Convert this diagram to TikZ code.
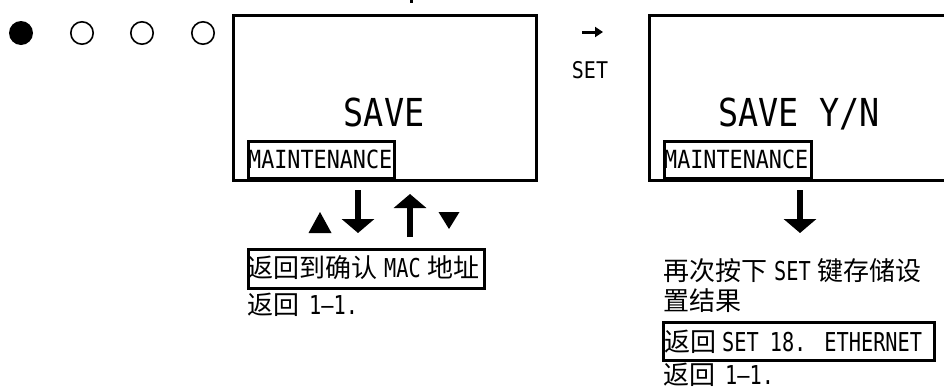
\documentclass[tikz,border=0pt]{standalone}
\usepackage{fontspec}
\newfontfamily\cjk{Noto Sans CJK SC}
\newfontfamily\lat[FakeStretch=0.87]{DejaVu Sans Mono}
\newfontfamily\latn[FakeStretch=0.78]{DejaVu Sans Mono}
\usetikzlibrary{arrows.meta}
\begin{document}
\begin{tikzpicture}[x=1pt,y=-1pt,
  screen/.style={draw, line width=2.7pt, inner sep=0pt, anchor=north west, minimum height=165pt},
  tagbox/.style={draw, line width=2.5pt, inner sep=0pt, anchor=north west},
  big/.style={inner sep=0pt, anchor=base, font=\lat\fontsize{38.5}{38.5}\selectfont},
  tagtxt/.style={inner sep=0pt, anchor=base west, font=\lat\fontsize{25}{25}\selectfont},
  txtline/.style={inner sep=0pt, anchor=base west, font=\fontsize{26}{26}\selectfont},
  dotfull/.style={circle, inner sep=0pt, minimum size=24pt, fill=black},
  dotempty/.style={circle, inner sep=0pt, minimum size=22.4pt, draw, line width=1.6pt},
  bigarrow/.style={line width=6.5pt, -{Triangle[length=14pt,width=32pt]}},
  smallarrow/.style={line width=3pt, -{Triangle[length=8pt,width=10pt]}},
]
\newcommand\en[1]{{\latn\fontsize{26}{26}\selectfont #1}}
\useasboundingbox (0,0) rectangle (944,389);
\clip (0,0) rectangle (944,389);
\fill[white] (0,0) rectangle (944,389);

% tiny mark at top
\fill (409.5,0) rectangle (412.5,2.5);

% dots
\node[dotfull] (d1) at (21,33) {};
\node[dotempty] (d2) at (82,33) {};
\node[dotempty] (d3) at (142,33) {};
\node[dotempty] (d4) at (203,33) {};

% screens
\node[screen, minimum width=303pt] (lcd1) at (232,14) {};
\node[screen, minimum width=330pt] (lcd2) at (648,14) {};

\node[big] (save1) at (384,126) {SAVE};
\node[big] (save2) at (799,126) {SAVE Y/N};

\node[tagbox, minimum width=146pt, minimum height=37pt] (mt1box) at (247,140) {};
\node[tagtxt] (mt1) at (248,168) {MAINTENANCE};
\node[tagbox, minimum width=147pt, minimum height=37pt] (mt2box) at (663,140) {};
\node[tagtxt] (mt2) at (664,168) {MAINTENANCE};

% SET arrow
\coordinate (ra1) at (582,32);
\coordinate (ra2) at (603,32);
\draw[smallarrow] (ra1) -- (ra2);
\node[inner sep=0pt, anchor=base, font=\lat\fontsize{23}{23}\selectfont] (setlbl) at (590,78) {SET};

% left arrows
\fill (308.5,233) -- (331.5,233) -- (320,212) -- cycle;
\coordinate (dn1s) at (358,190);
\coordinate (dn1e) at (358,233);
\draw[bigarrow] (dn1s) -- (dn1e);
\coordinate (up1s) at (410,237);
\coordinate (up1e) at (410,194);
\draw[bigarrow] (up1s) -- (up1e);
\fill (438.5,212) -- (459.5,212) -- (449,229) -- cycle;

% right arrow
\coordinate (dn2s) at (800,190);
\coordinate (dn2e) at (800,233);
\draw[bigarrow] (dn2s) -- (dn2e);

% left texts
\node[tagbox, minimum width=236pt, minimum height=39pt] (back1box) at (247,248) {};
\node[txtline] (back1) at (247,277) {{\cjk 返回到确认}\hspace{7pt}\en{MAC}\hspace{7pt}{\cjk 地址}};
\node[txtline] (ret1) at (247,314) {{\cjk 返回}\hspace{10pt}\en{1–1.}};

% right texts
\node[txtline] (r1) at (663,280) {{\cjk 再次按下}\hspace{7pt}\en{SET}\hspace{7pt}{\cjk 键存储设}};
\node[txtline] (r2) at (663,310) {{\cjk 置结果}};
\node[tagbox, minimum width=271pt, minimum height=38pt] (r3box) at (662,321) {};
\node[txtline] (r3) at (664,351) {{\cjk 返回}\hspace{6pt}\en{SET}\hspace{11pt}\en{18.}\hspace{18pt}\en{ETHERNET}};
\node[txtline] (r4) at (663,384.5) {{\cjk 返回}\hspace{10pt}\en{1–1.}};
\end{tikzpicture}
\end{document}
